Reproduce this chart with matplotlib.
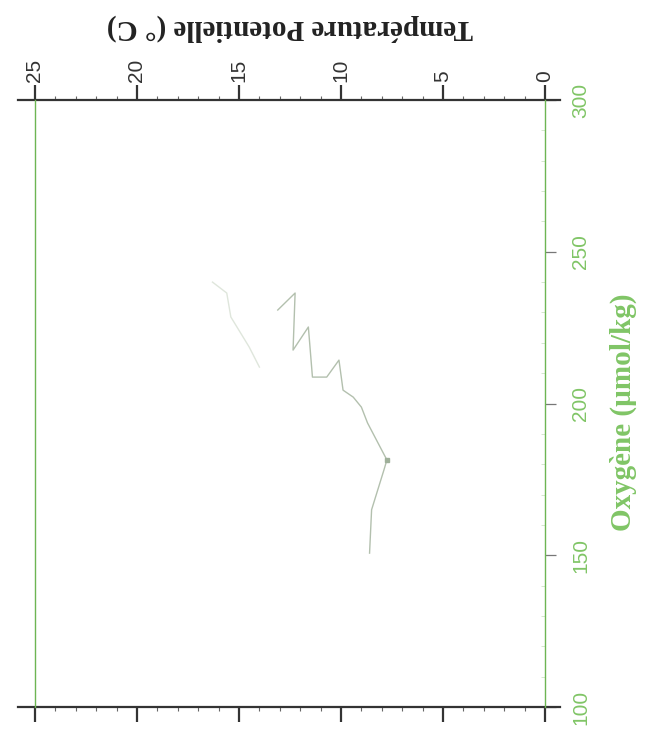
import matplotlib
matplotlib.use("Agg")
import matplotlib.pyplot as plt
from matplotlib.ticker import MultipleLocator

# Data (temperature °C, oxygen µmol/kg)
temp_a = [16.3, 15.6, 15.4, 14.5, 14.0]
oxy_a = [240.0, 236.4, 228.5, 218.6, 212.0]

temp_b = [13.1, 12.25, 12.35, 11.6, 11.4, 10.7, 10.1, 9.9, 9.4, 9.0, 8.7, 7.75, 7.9, 8.5, 8.6]
oxy_b = [230.8, 236.4, 217.6, 225.2, 208.7, 208.7, 214.3, 204.4, 202.1, 198.8, 193.6, 181.4, 178.0, 165.0, 150.7]

temp_ticks = [0, 5, 10, 15, 20, 25]
oxy_ticks = [100, 150, 200, 250, 300]

green = "#6db553"
green_txt = "#80c566"

fig = plt.figure(figsize=(6.53, 7.42), dpi=100)
ax = fig.add_axes([35/653, 1-707/742, 510/653, 607/742])

ax.plot(temp_a, oxy_a, color="#dfe6dc", lw=1.0)
ax.plot(temp_b, oxy_b, color="#b3c0ae", lw=1.0)
ax.plot(temp_b[11], oxy_b[11], marker="s", ms=3, color="#9fb09a", lw=0)

ax.set_xlim(25, 0)
ax.set_ylim(100, 300)

# spines
for s in ("left", "right"):
    ax.spines[s].set_color(green)
    ax.spines[s].set_linewidth(1.0)
for s in ("top", "bottom"):
    ax.spines[s].set_visible(False)
for yy in (0, 1):
    ax.plot([-0.033, 1.029], [yy, yy], transform=ax.transAxes, color="#333333",
            lw=1.6, clip_on=False)

# temperature axis (top & bottom)
ax.set_xticks(temp_ticks)
ax.xaxis.set_minor_locator(MultipleLocator(1))
ax.tick_params(axis="x", which="major", top=True, bottom=True, labeltop=True,
               labelbottom=False, direction="out", length=11, width=1.6,
               color="#333333", pad=2, labelsize=15, labelrotation=90,
               labelcolor="#333333")
ax.tick_params(axis="x", which="minor", top=True, bottom=True, direction="out",
               length=3, width=0.8, color="#666666")
for lab in ax.get_xticklabels():
    lab.set_fontfamily("Liberation Sans")

# oxygen axis (right)
ax.yaxis.tick_right()
ax.set_yticks(oxy_ticks)
ax.yaxis.set_minor_locator(MultipleLocator(10))
ax.tick_params(axis="y", which="major", left=False, right=True, direction="out",
               length=8, width=0.9, color="#777777", pad=11, labelsize=15,
               labelrotation=90, labelcolor=green_txt)
ax.tick_params(axis="y", which="minor", left=False, right=True, direction="in",
               length=3, width=0.6, color="#cfe3c6")
for lab in ax.get_yticklabels():
    lab.set_va("center")
    lab.set_fontfamily("Liberation Sans")

fig.text(290/653, 1-28/742, "Température Potentielle (° C)", rotation=180,
         ha="center", va="center", fontsize=21, fontweight="bold",
         family="Liberation Serif", color="#222222")
fig.text(623/653, 1-412/742, "Oxygène (µmol/kg)", rotation=90,
         ha="center", va="center", fontsize=21, fontweight="bold",
         family="Liberation Serif", color=green_txt)

fig.savefig("out.png", dpi=100)
